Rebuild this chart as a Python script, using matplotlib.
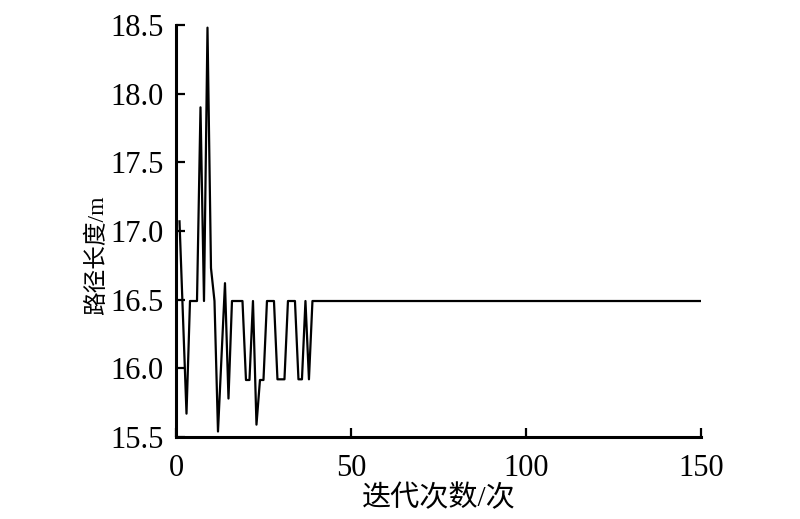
import numpy as np
import matplotlib
matplotlib.use("Agg")
import matplotlib.pyplot as plt

early = [17.07, 16.37, 15.67, 16.49, 16.49, 16.49, 17.90, 16.49, 18.48, 16.73,
         16.49, 15.54, 16.08, 16.62, 15.78, 16.49, 16.49, 16.49, 16.49, 15.915,
         15.915, 16.49, 15.59, 15.915, 15.915, 16.49, 16.49, 16.49, 15.92, 15.92,
         15.92, 16.49, 16.49, 16.49, 15.92, 15.92, 16.49, 15.92, 16.49]
final_len = 16.49
n_iter = 150

length = early + [final_len] * (n_iter - len(early))
iters = np.arange(1, n_iter + 1)

xticks = [0, 50, 100, 150]
yticks = [15.5, 16.0, 16.5, 17.0, 17.5, 18.0, 18.5]

plt.rcParams['font.family'] = ['Liberation Serif', 'Noto Sans CJK SC']

fig = plt.figure(figsize=(8, 5.19), dpi=100)
ax = fig.add_axes([0.22, 0.158, 0.656, 0.794])

ax.plot(iters, length, color="k", linewidth=1.6)

ax.set_xlim(0, 150)
ax.set_ylim(15.5, 18.5)
ax.set_xticks(xticks)
ax.set_yticks(yticks)
ax.set_yticklabels(["%.1f" % v for v in yticks])

for s in ["top", "right"]:
    ax.spines[s].set_visible(False)
for s in ["left", "bottom"]:
    ax.spines[s].set_linewidth(2.2)

ax.tick_params(direction="in", length=6.5, width=1.6, labelsize=22)
ax.tick_params(axis="y", pad=9)
ax.tick_params(axis="x", pad=12)

ax.set_xlabel("迭代次数/次", fontsize=21)
ax.set_ylabel("路径长度/m", fontsize=17)
ax.xaxis.set_label_coords(0.5, -0.115)
ax.yaxis.set_label_coords(-0.13, 0.44)

fig.savefig("out.png", dpi=100)
